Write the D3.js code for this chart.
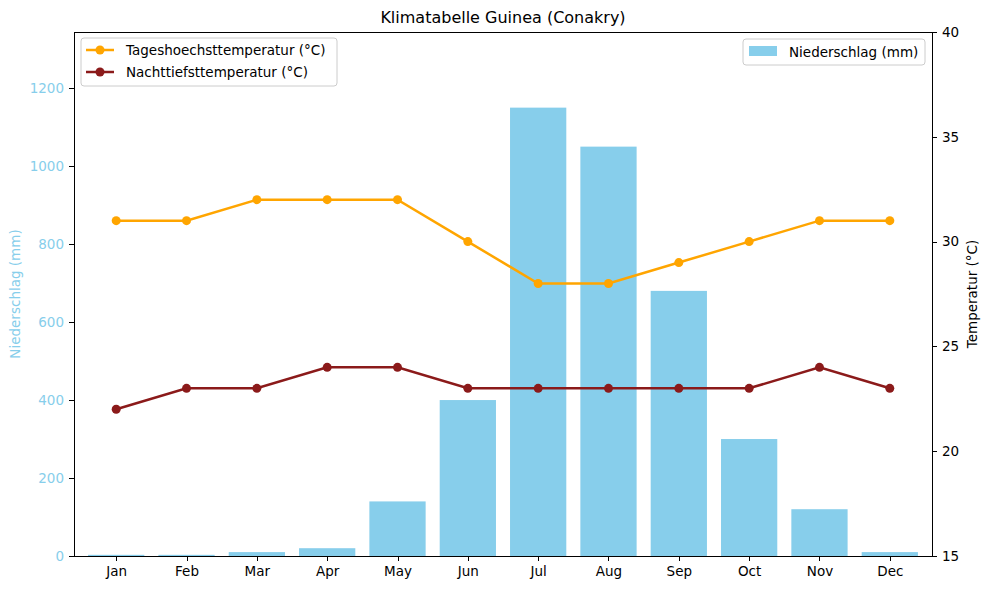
<!DOCTYPE html>
<html>
<head>
<meta charset="utf-8">
<script src="https://d3js.org/d3.v7.min.js"></script>
<style>
  body { margin: 0; background: #fff; }
  svg { font-family: "DejaVu Sans", sans-serif; }
  .axis path, .axis line { stroke: #000; shape-rendering: crispEdges; }
  .axis text { font-family: "DejaVu Sans", sans-serif; font-size: 13.5px; fill: #000; }
  .y-left text { fill: skyblue; }
</style>
</head>
<body>
<div id="chart"></div>
<script>
// Monatsdaten Conakry
const months = ["Jan", "Feb", "Mar", "Apr", "May", "Jun", "Jul", "Aug", "Sep", "Oct", "Nov", "Dec"];
const rain = [3, 3, 10, 20, 140, 400, 1150, 1050, 680, 300, 120, 10];
const tempHigh = [31, 31, 32, 32, 32, 30, 28, 28, 29, 30, 31, 31];
const tempLow = [22, 23, 23, 24, 24, 23, 23, 23, 23, 23, 24, 23];
const rainTicks = [0, 200, 400, 600, 800, 1000, 1200];
const tempTicks = [15, 20, 25, 30, 35, 40];

const W = 989, H = 590;
const plotL = 74, plotR = 932, plotT = 32, plotB = 556;

const svg = d3.select("#chart").append("svg")
  .attr("width", W).attr("height", H);

const x = d3.scaleLinear().domain([-0.6, 11.6]).range([plotL, plotR]);
const yRain = d3.scaleLinear().domain([0, 1344]).range([plotB, plotT]);
const yTemp = d3.scaleLinear().domain([15, 40]).range([plotB, plotT]);
const barW = x(0.8) - x(0);

// Balken Niederschlag
svg.selectAll(".bar")
  .data(rain)
  .enter().append("rect")
  .attr("class", "bar")
  .attr("x", (d, i) => x(i) - barW / 2)
  .attr("width", barW)
  .attr("y", d => yRain(d))
  .attr("height", d => plotB - yRain(d))
  .attr("fill", "skyblue");

// Linien Temperatur
function drawLine(vals, color) {
  const line = d3.line().x((d, i) => x(i)).y(d => yTemp(d));
  svg.append("path")
    .datum(vals)
    .attr("d", line)
    .attr("fill", "none")
    .attr("stroke", color)
    .attr("stroke-width", 2.5);
  svg.selectAll(null)
    .data(vals)
    .enter().append("circle")
    .attr("cx", (d, i) => x(i))
    .attr("cy", d => yTemp(d))
    .attr("r", 4.5)
    .attr("fill", color);
}
drawLine(tempHigh, "#FFA500");
drawLine(tempLow, "#8B1A1A");

// Achsen
svg.append("g")
  .attr("class", "axis")
  .attr("transform", `translate(0,${plotB})`)
  .call(d3.axisBottom(x).tickValues(d3.range(12)).tickFormat(i => months[i]).tickSize(5).tickPadding(5))
  .call(g => g.select(".domain").remove());

svg.append("g")
  .attr("class", "axis y-left")
  .attr("transform", `translate(${plotL},0)`)
  .call(d3.axisLeft(yRain).tickValues(rainTicks).tickFormat(d3.format("d")).tickSize(5).tickPadding(5))
  .call(g => g.select(".domain").remove());

svg.append("g")
  .attr("class", "axis")
  .attr("transform", `translate(${plotR},0)`)
  .call(d3.axisRight(yTemp).tickValues(tempTicks).tickSize(5).tickPadding(5))
  .call(g => g.select(".domain").remove());

// Rahmen
svg.append("rect")
  .attr("x", plotL).attr("y", plotT)
  .attr("width", plotR - plotL).attr("height", plotB - plotT)
  .attr("fill", "none").attr("stroke", "#000").attr("stroke-width", 1)
  .attr("shape-rendering", "crispEdges");

// Titel und Achsentitel
svg.append("text")
  .attr("x", (plotL + plotR) / 2).attr("y", 23)
  .attr("text-anchor", "middle").attr("font-size", 16)
  .text("Klimatabelle Guinea (Conakry)");

svg.append("text")
  .attr("transform", `translate(20,${(plotT + plotB) / 2}) rotate(-90)`)
  .attr("text-anchor", "middle").attr("font-size", 13.5).attr("fill", "skyblue")
  .text("Niederschlag (mm)");

svg.append("text")
  .attr("transform", `translate(977,${(plotT + plotB) / 2}) rotate(-90)`)
  .attr("text-anchor", "middle").attr("font-size", 13.5)
  .text("Temperatur (°C)");

// Legende links
const legL = svg.append("g").attr("transform", "translate(81,38)");
legL.append("rect").attr("width", 256).attr("height", 48).attr("rx", 3)
  .attr("fill", "#fff").attr("fill-opacity", 0.8).attr("stroke", "#ccc");
[["Tageshoechsttemperatur (°C)", "#FFA500"], ["Nachttiefsttemperatur (°C)", "#8B1A1A"]].forEach((it, k) => {
  const yy = 12 + k * 22;
  legL.append("line").attr("x1", 5).attr("x2", 33).attr("y1", yy).attr("y2", yy)
    .attr("stroke", it[1]).attr("stroke-width", 2.5);
  legL.append("circle").attr("cx", 19).attr("cy", yy).attr("r", 4.5).attr("fill", it[1]);
  legL.append("text").attr("x", 45).attr("y", yy + 5).attr("font-size", 13.5).text(it[0]);
});

// Legende rechts
const legR = svg.append("g").attr("transform", "translate(743,39)");
legR.append("rect").attr("width", 182).attr("height", 26).attr("rx", 3)
  .attr("fill", "#fff").attr("fill-opacity", 0.8).attr("stroke", "#ccc");
legR.append("rect").attr("x", 6).attr("y", 7).attr("width", 28).attr("height", 10).attr("fill", "skyblue");
legR.append("text").attr("x", 46).attr("y", 18).attr("font-size", 13.5).text("Niederschlag (mm)");
</script>
</body>
</html>
